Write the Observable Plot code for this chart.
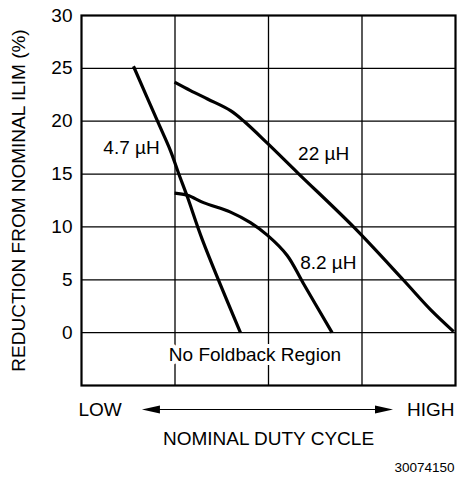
<!DOCTYPE html>
<html>
<head>
<meta charset="utf-8">
<script src="https://cdn.jsdelivr.net/npm/d3@7"></script>
<script src="https://cdn.jsdelivr.net/npm/@observablehq/plot@0.6"></script>
<style>
  html, body { margin: 0; padding: 0; background: #fff; }
  #chart { width: 457px; height: 479px; }
</style>
</head>
<body>
<div id="chart"></div>
<script>
// Data (x in relative duty-cycle units 0..4, y in % reduction)
const x47 = [0.556, 0.813, 0.952, 1.037, 1.134, 1.294, 1.70];
const y47 = [25.2, 20.0, 17.2, 15.1, 12.8, 8.75, 0];

const x82 = [0.995, 1.134, 1.305, 1.594, 1.807, 1.99, 2.20, 2.37, 2.68];
const y82 = [13.2, 13.0, 12.3, 11.4, 10.4, 9.2, 7.3, 4.7, 0];

const x22 = [0.995, 1.166, 1.348, 1.594, 1.75, 1.99, 2.32, 2.91, 3.44, 3.73, 3.98];
const y22 = [23.7, 22.9, 22.1, 21.0, 19.9, 17.9, 15.05, 10.0, 5.0, 2.2, 0.1];

const series = [
  {name: "4.7 µH", xs: x47, ys: y47, lx: 0.535, ly: 17.5},
  {name: "8.2 µH", xs: x82, ys: y82, lx: 2.64, ly: 6.6},
  {name: "22 µH", xs: x22, ys: y22, lx: 2.59, ly: 16.9}
];

const yTicks = [0, 5, 10, 15, 20, 25, 30];
const xGrid = [1, 2, 3];
const yGrid = [0, 5, 10, 15, 20, 25];
const xDomain = [0, 4];
const yDomain = [-5, 30];
const arrowSpan = [0.652, 3.337];

const regionLabel = {text: "No Foldback Region", x: 1.855, y: -2.07};

const points = series.flatMap(s => s.xs.map((x, i) => ({series: s.name, x, y: s.ys[i]})));

const FONT = "'Liberation Sans', Arial, Helvetica, sans-serif";

function arrowMark(index, scales, values, dims) {
  const x1 = scales.x(arrowSpan[0]);
  const x2 = scales.x(arrowSpan[1]);
  const y = dims.height - dims.marginBottom + 24.5;
  const L = 18, W = 4;
  const g = d3.create("svg:g");
  g.append("line")
    .attr("x1", x1 + L - 1).attr("x2", x2 - L + 1)
    .attr("y1", y).attr("y2", y)
    .attr("stroke", "#000").attr("stroke-width", 1.2);
  g.append("path")
    .attr("d", `M${x1},${y}L${x1 + L},${y - W}L${x1 + L},${y + W}Z`)
    .attr("fill", "#000");
  g.append("path")
    .attr("d", `M${x2},${y}L${x2 - L},${y - W}L${x2 - L},${y + W}Z`)
    .attr("fill", "#000");
  return g.node();
}

const plot = Plot.plot({
  width: 457,
  height: 479,
  marginTop: 15,
  marginLeft: 81,
  marginRight: 2,
  marginBottom: 94,
  style: {fontFamily: FONT, background: "#fff", color: "#000"},
  x: {domain: xDomain, axis: null},
  y: {domain: yDomain, axis: null},
  marks: [
    Plot.ruleX(xGrid, {stroke: "#000", strokeWidth: 1.3}),
    Plot.ruleY(yGrid, {stroke: "#000", strokeWidth: 1.3}),
    Plot.text([regionLabel], {x: "x", y: "y", text: "text", fontSize: 19, fill: "#000",
      stroke: "#fff", strokeWidth: 8, lineAnchor: "middle"}),
    Plot.line(points, {x: "x", y: "y", z: "series", stroke: "#000", strokeWidth: 3.2,
      strokeLinejoin: "round", strokeLinecap: "butt", curve: "catmull-rom"}),
    Plot.text(series, {x: "lx", y: "ly", text: "name", fontSize: 19, fill: "#000",
      lineAnchor: "middle"}),
    Plot.frame({stroke: "#000", strokeWidth: 2.2}),
    Plot.axisY({ticks: yTicks, tickSize: 0, tickPadding: 9, fontSize: 19, label: null, fill: "#000"}),
    Plot.text(["REDUCTION FROM NOMINAL ILIM (%)"], {frameAnchor: "left", textAnchor: "middle", rotate: -90,
      dx: -62.5, fontSize: 19, lineAnchor: "middle", fill: "#000"}),
    Plot.text(["LOW"], {frameAnchor: "bottom-left", textAnchor: "start", dx: -3, dy: 24,
      fontSize: 19, lineAnchor: "middle", fill: "#000"}),
    Plot.text(["HIGH"], {frameAnchor: "bottom-right", textAnchor: "end", dx: -1, dy: 24,
      fontSize: 19, lineAnchor: "middle", fill: "#000"}),
    Plot.text(["NOMINAL DUTY CYCLE"], {frameAnchor: "bottom", dy: 53,
      fontSize: 19, lineAnchor: "middle", fill: "#000"}),
    Plot.text(["30074150"], {frameAnchor: "bottom-right", textAnchor: "end", dx: -1, dy: 82.5,
      fontSize: 13.5, lineAnchor: "middle", fill: "#000"}),
    arrowMark
  ]
});

document.getElementById("chart").appendChild(plot);
</script>
</body>
</html>
